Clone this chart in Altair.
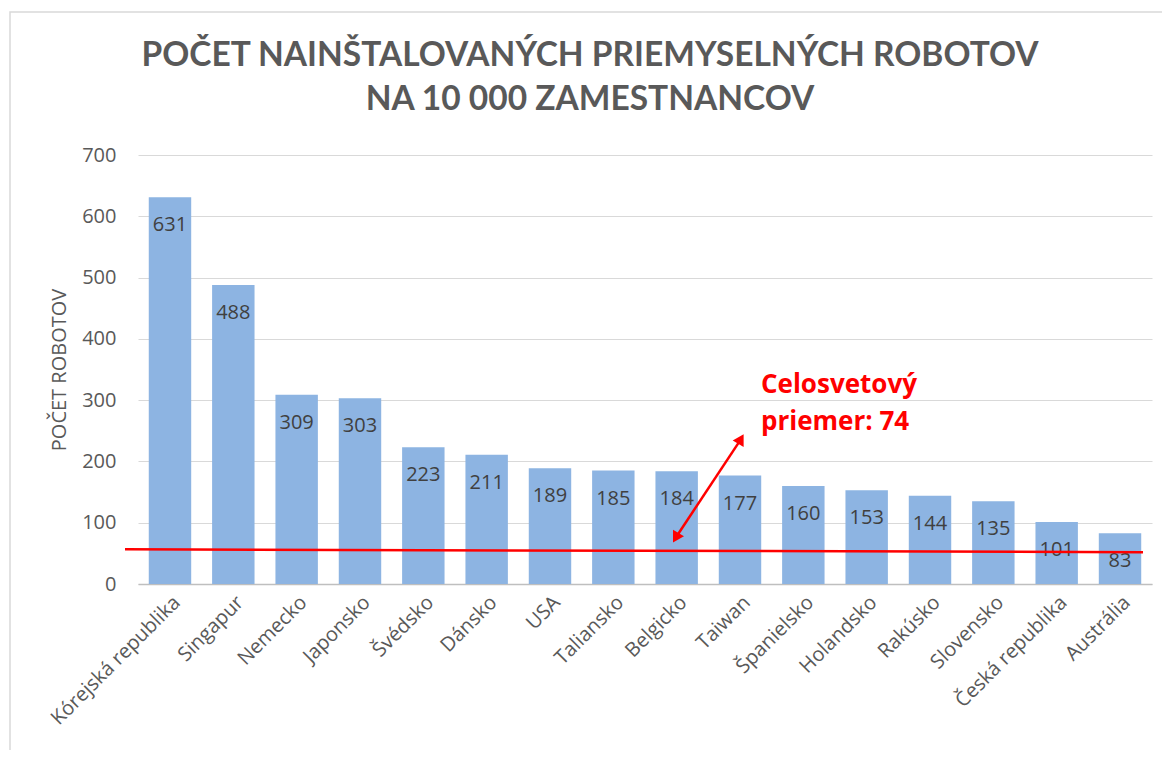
import altair as alt
import pandas as pd

title_lines = ["POČET NAINŠTALOVANÝCH PRIEMYSELNÝCH ROBOTOV", "NA 10 000 ZAMESTNANCOV"]
countries = ["Kórejská republika", "Singapur", "Nemecko", "Japonsko", "Švédsko",
             "Dánsko", "USA", "Taliansko", "Belgicko", "Taiwan", "Španielsko",
             "Holandsko", "Rakúsko", "Slovensko", "Česká republika", "Austrália"]
values = [631, 488, 309, 303, 223, 211, 189, 185, 184, 177, 160, 153, 144, 135, 101, 83]

avg_line_start = [56.5]
avg_line_end = [52.0]
arrow_x = ["Belgicko", "Taiwan"]
arrow_y = [78, 234]
arrow_angle = [210, 30]
note_lines = ["Celosvetový", "priemer: 74"]
note_y = [325, 264]

FONT = "Open Sans"
TITLE_FONT = "Lato"
GRAY = "#595959"

df = pd.DataFrame({"krajina": countries, "hodnota": values})

xscale = alt.Scale(domain=countries, paddingInner=0.33, paddingOuter=0.17)
yscale = alt.Scale(domain=[0, 700])

x_enc = alt.X("krajina:N", sort=countries, scale=xscale,
              axis=alt.Axis(title=None, labelAngle=-45, labelFontSize=20, labelColor=GRAY,
                            labelFont=FONT, ticks=False, domainColor="#BFBFBF", domainWidth=1.5,
                            labelPadding=8))
y_enc = alt.Y("hodnota:Q", scale=yscale,
              axis=alt.Axis(title="POČET ROBOTOV", titleFontSize=20, titleFont=FONT,
                            titleFontWeight="normal", titleColor=GRAY, titlePadding=12,
                            labelFontSize=20, labelColor=GRAY, labelFont=FONT,
                            values=list(range(0, 701, 100)), ticks=False, domain=False,
                            gridColor="#D9D9D9", gridWidth=1.2, labelPadding=22))

bars = alt.Chart(df).mark_bar(color="#8DB4E2").encode(x=x_enc, y=y_enc)

labels = alt.Chart(df).mark_text(font=FONT, fontSize=20, color="#404040", baseline="middle",
                                 dy=28).encode(
    x=alt.X("krajina:N", sort=countries, scale=xscale),
    y=alt.Y("hodnota:Q", scale=yscale),
    text="hodnota:Q")

avg_df = pd.DataFrame({"y": avg_line_start, "y2": avg_line_end})
avg_line = alt.Chart(avg_df).mark_rule(color="#FF0000", strokeWidth=2.5).encode(
    x=alt.value(-13), x2=alt.value(1005),
    y=alt.Y("y:Q", scale=yscale), y2="y2:Q")

arrow_df = pd.DataFrame({"krajina": arrow_x, "hodnota": arrow_y, "uhol": arrow_angle})
arrow_line = alt.Chart(arrow_df).mark_line(color="#FF0000", strokeWidth=2.5).encode(
    x=alt.X("krajina:N", sort=countries, scale=xscale),
    y=alt.Y("hodnota:Q", scale=yscale))
arrow_heads = alt.Chart(arrow_df).mark_point(shape="triangle", filled=True, color="#FF0000",
                                             size=160, opacity=1).encode(
    x=alt.X("krajina:N", sort=countries, scale=xscale),
    y=alt.Y("hodnota:Q", scale=yscale),
    angle=alt.Angle("uhol:Q", scale=None))

note_df = pd.DataFrame({"krajina": ["Taiwan", "Taiwan"], "hodnota": note_y, "t": note_lines})
note = alt.Chart(note_df).mark_text(font=FONT, fontSize=26, fontWeight="bold", color="#FF0000",
                                    align="left", baseline="middle", dx=21).encode(
    x=alt.X("krajina:N", sort=countries, scale=xscale),
    y=alt.Y("hodnota:Q", scale=yscale),
    text="t:N")

frame = alt.Chart(pd.DataFrame({"a": [0]})).mark_rect(filled=False, stroke="#D9D9D9",
                                                      strokeWidth=1.5).encode(
    x=alt.value(-128), x2=alt.value(1100), y=alt.value(-143), y2=alt.value(700))

title_df = pd.DataFrame({"t": title_lines, "row": [0, 1]})
title1 = alt.Chart(title_df.iloc[[0]]).mark_text(
    font=TITLE_FONT, fontSize=33.5, fontWeight="bold", color=GRAY, align="center",
    baseline="middle").encode(x=alt.value(452), y=alt.value(-99), text="t:N")
title2 = alt.Chart(title_df.iloc[[1]]).mark_text(
    font=TITLE_FONT, fontSize=33.5, fontWeight="bold", color=GRAY, align="center",
    baseline="middle").encode(x=alt.value(452), y=alt.value(-55), text="t:N")

chart = alt.layer(frame, bars, labels, avg_line, arrow_line, arrow_heads, note,
                  title1, title2).properties(
    width=1014, height=429,
    autosize=alt.AutoSizeParams(type="none"),
    padding={"left": 130, "top": 147, "right": 10, "bottom": 166},
).configure_view(stroke=None)

chart.save("out.html", embed_options={"renderer": "svg", "actions": False})
